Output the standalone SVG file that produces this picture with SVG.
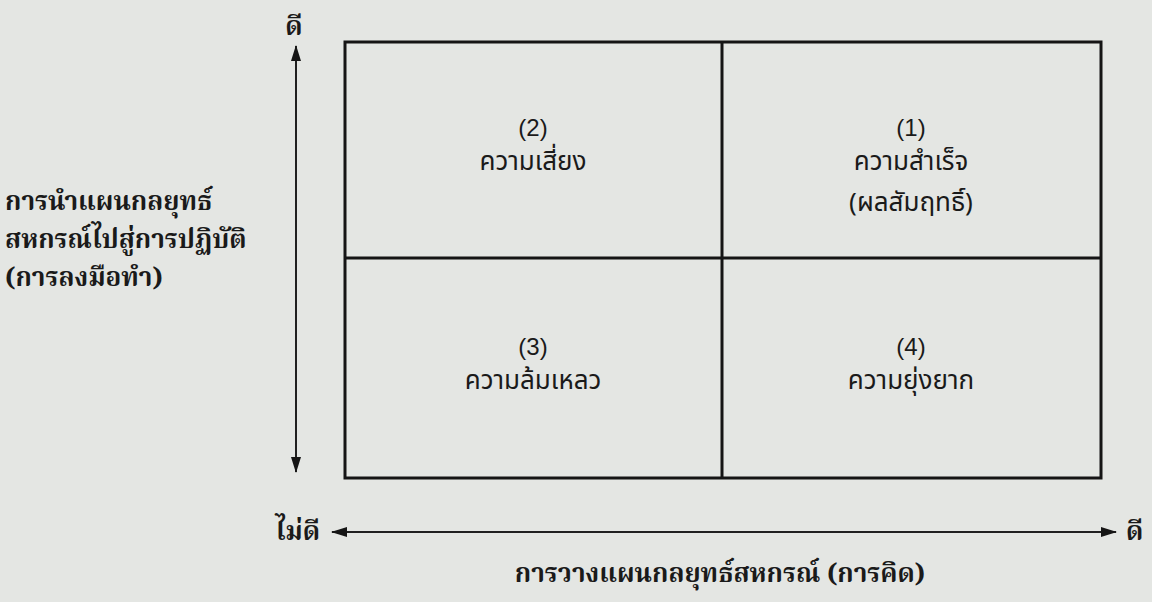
<svg xmlns="http://www.w3.org/2000/svg" width="1152" height="602" viewBox="0 0 1152 602">
<style>
.cell{font-family:"Noto Sans Thai","Noto Sans Thai Looped","Noto Sans","DejaVu Sans",sans-serif;font-size:26px;fill:#1a1a1a;text-anchor:middle}
.num{font-family:"Liberation Sans",Arial,sans-serif;font-size:24px;fill:#1a1a1a;text-anchor:middle}
.lbl{font-family:"Noto Serif Thai","Noto Sans Thai Looped","Noto Sans Thai","DejaVu Serif",serif;font-size:26px;font-weight:bold;fill:#1a1a1a}
.ln{stroke:#151515;stroke-width:3;fill:none}
.ax{stroke:#202020;stroke-width:2;fill:none}
</style>
<defs>
<marker id="ah" viewBox="0 0 16 10" refX="15" refY="5" markerWidth="16" markerHeight="10" markerUnits="userSpaceOnUse" orient="auto-start-reverse">
<path d="M0,0 L16,5 L0,10 z" fill="#151515"/>
</marker>
</defs>
<rect width="1152" height="602" fill="#e4e6e3"/>
<g id="grid">
<rect x="345" y="42" width="756" height="436" class="ln"/>
<line x1="722" y1="42" x2="722" y2="478" class="ln"/>
<line x1="345" y1="258" x2="1101" y2="258" class="ln"/>
</g>
<g id="cell2">
<text x="533" y="136" class="num">(2)</text>
<text x="533" y="170" class="cell">ความเสี่ยง</text>
</g>
<g id="cell1">
<text x="911" y="136" class="num">(1)</text>
<text x="911" y="170" class="cell">ความสำเร็จ</text>
<text x="911" y="211" class="cell">(ผลสัมฤทธิ์)</text>
</g>
<g id="cell3">
<text x="533" y="355" class="num">(3)</text>
<text x="533" y="389" class="cell">ความล้มเหลว</text>
</g>
<g id="cell4">
<text x="911" y="355" class="num">(4)</text>
<text x="911" y="389" class="cell">ความยุ่งยาก</text>
</g>
<g id="connectors">
<line x1="296" y1="472" x2="296" y2="46" class="ax" marker-start="url(#ah)" marker-end="url(#ah)"/>
<line x1="332" y1="532" x2="1116" y2="532" class="ax" marker-start="url(#ah)" marker-end="url(#ah)"/>
</g>
<g id="axis-labels">
<text x="294" y="35" class="lbl" text-anchor="middle">ดี</text>
<text x="320" y="540" class="lbl" text-anchor="end">ไม่ดี</text>
<text x="1126" y="540" class="lbl">ดี</text>
<text x="5" y="210" class="lbl">การนำแผนกลยุทธ์</text>
<text x="5" y="248" class="lbl">สหกรณ์ไปสู่การปฏิบัติ</text>
<text x="5" y="286" class="lbl">(การลงมือทำ)</text>
<text x="720" y="582" class="lbl" text-anchor="middle">การวางแผนกลยุทธ์สหกรณ์ (การคิด)</text>
</g>
</svg>
